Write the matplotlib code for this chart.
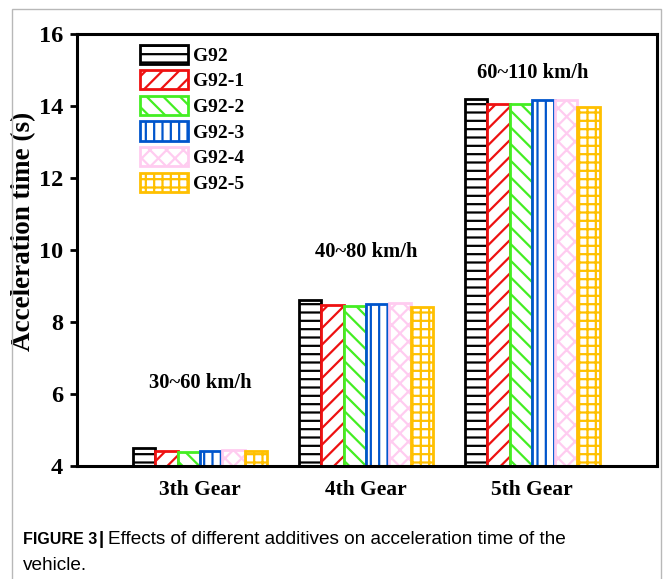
import matplotlib
matplotlib.use("Agg")
import matplotlib.pyplot as plt
import numpy as np
from matplotlib.patches import Rectangle

categories = ["3th Gear", "4th Gear", "5th Gear"]
series_names = ["G92", "G92-1", "G92-2", "G92-3", "G92-4", "G92-5"]
values = {
    "G92":   [4.50, 8.60, 14.19],
    "G92-1": [4.42, 8.47, 14.06],
    "G92-2": [4.40, 8.44, 14.05],
    "G92-3": [4.42, 8.50, 14.18],
    "G92-4": [4.45, 8.52, 14.16],
    "G92-5": [4.42, 8.42, 13.97],
}
speed_labels = ["30~60 km/h", "40~80 km/h", "60~110 km/h"]
speed_label_y = [6.3, 9.94, 14.92]
colors = ["#000000", "#ee1111", "#44ee22", "#0055cc", "#ffccf0", "#ffc000"]
hatches = ["--", "//", "\\\\", "||", "xx", "++"]

plt.rcParams["hatch.linewidth"] = 1.6
serif = "Liberation Serif"

W, H = 663, 579
fig = plt.figure(figsize=(W / 100, H / 100), dpi=100)
# outer frame
fig.patches.append(Rectangle((12 / W, -0.05), (661 - 12) / W, 1.05 - 9 / H,
                             transform=fig.transFigure, fill=False,
                             edgecolor="#b8b8b8", linewidth=1.0))

ax = fig.add_axes([77 / W, 1 - 466 / H, (657 - 77) / W, (466 - 34) / H])
x = np.arange(len(categories))
bw = 0.135
n = len(series_names)
for i, name in enumerate(series_names):
    off = (i - (n - 1) / 2) * bw
    ax.bar(x + off, np.array(values[name]) - 4, bw, bottom=4, color="white",
           edgecolor=colors[i], hatch=hatches[i], linewidth=2.0, label=name)

ax.set_ylim(4, 16)
ax.set_xlim(-0.74, 2.75)
ax.set_yticks([4, 6, 8, 10, 12, 14, 16])
ax.set_xticks(x)
ax.set_xticklabels(categories, fontfamily=serif, fontweight="bold", fontsize=15.5)
for lab in ax.get_yticklabels():
    lab.set_fontfamily(serif)
    lab.set_fontweight("bold")
    lab.set_fontsize(17.5)
ax.tick_params(axis="y", direction="out", length=5, width=2, pad=5)
ax.tick_params(axis="x", length=0, pad=10)
for s in ax.spines.values():
    s.set_linewidth(2.2)
ax.set_ylabel("Acceleration time (s)", fontfamily=serif, fontweight="bold",
              fontsize=19.5)
ax.yaxis.set_label_coords((36 - 77) / 580, (466 - 231) / 432)

for xi, txt, yy in zip(x, speed_labels, speed_label_y):
    ax.text(xi, yy, txt, ha="center", va="center", fontfamily=serif,
            fontweight="bold", fontsize=14.8)

leg = ax.legend(loc="upper left", bbox_to_anchor=(63 / 580, 0.975), frameon=False,
                prop={"family": serif, "weight": "bold", "size": 14},
                handlelength=2.47, handleheight=1.13, labelspacing=0.28,
                handletextpad=0.26, borderaxespad=0, borderpad=0)

fig.text(23 / W, 1 - 540 / H, "FIGURE 3", fontfamily="Liberation Sans",
         fontweight="bold", fontsize=11.5, va="center", ha="left")
fig.text(99 / W, 1 - 540 / H, "|", fontfamily="Liberation Sans",
         fontweight="bold", fontsize=13.5, va="center", ha="left")
fig.text(108 / W, 1 - 540 / H,
         "Effects of different additives on acceleration time of the",
         fontfamily="Liberation Sans", fontsize=13.7, va="center", ha="left")
fig.text(23 / W, 1 - 566 / H, "vehicle.", fontfamily="Liberation Sans",
         fontsize=13.7, va="center", ha="left")

fig.savefig("out.png", dpi=100)
